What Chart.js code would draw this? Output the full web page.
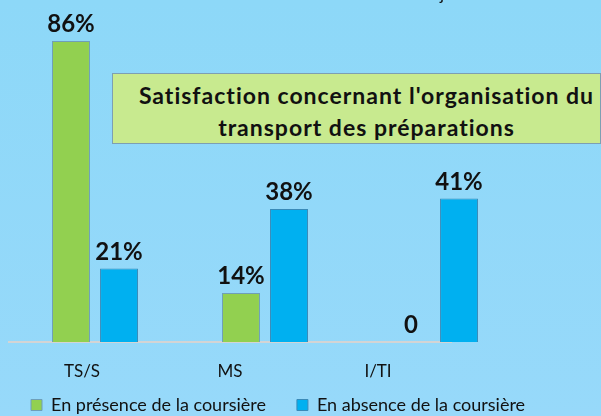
<!DOCTYPE html>
<html>
<head>
<meta charset="utf-8">
<script src="https://cdn.jsdelivr.net/npm/chart.js@4/dist/chart.umd.min.js"></script>
<style>
  html, body { margin: 0; padding: 0; }
  body {
    width: 601px; height: 416px; overflow: hidden; position: relative;
    background: linear-gradient(#8dd8f8, #97d9fa);
    font-family: Lato, sans-serif;
  }
  #wrap { position: absolute; left: 0; top: 0; width: 601px; height: 416px; }
  .titlebox {
    position: absolute; left: 112px; top: 73px; width: 467px; height: 64px;
    background: #c8ea8f; border: 1px solid #7d9fb2;
    text-align: center; font-weight: bold; font-size: 23px; line-height: 32px;
    color: #111; padding: 5px 0 0 20px; box-sizing: content-box; letter-spacing: 1px;
    white-space: nowrap;
  }
  .top { position: absolute; top: -17px; font-size: 17px; color: #111; }
</style>
</head>
<body>
<div id="wrap"><canvas id="chart" width="601" height="416"></canvas></div>
<div class="top" style="left:440px">journalier</div>
<div class="top" style="left:560px">mensuel</div>
<div class="titlebox">Satisfaction concernant l'organisation du<br>transport des préparations</div>
<script>
const categories = ['TS/S', 'MS', 'I/TI'];
const presence = [86, 14, 0];
const absence = [21, 38, 41];
const seriesNames = ['En présence de la coursière', 'En absence de la coursière'];

const baseline = {
    id: 'baseline',
    beforeDatasetsDraw(chart) {
        const ctx = chart.ctx;
        const x2 = chart.scales.x2;
        const y = chart.chartArea.bottom;
        ctx.save();
        ctx.strokeStyle = '#d4d4d4';
        ctx.lineWidth = 2;
        ctx.beginPath();
        ctx.moveTo(x2.getPixelForValue(-0.5), y);
        ctx.lineTo(x2.getPixelForValue(2.5), y);
        ctx.stroke();
        ctx.restore();
    }
};

const valueLabels = {
    id: 'valueLabels',
    afterDatasetsDraw(chart) {
        const ctx = chart.ctx;
        ctx.save();
        ctx.font = 'bold 24px Lato';
        ctx.fillStyle = '#111';
        ctx.textAlign = 'center';
        ctx.textBaseline = 'alphabetic';
        chart.data.datasets.forEach((ds, i) => {
            chart.getDatasetMeta(i).data.forEach((bar, j) => {
                const v = ds.data[j];
                ctx.fillText(v === 0 ? '0' : v + '%', bar.x, bar.y - 9);
            });
        });
        ctx.restore();
    }
};

new Chart(document.getElementById('chart'), {
    type: 'bar',
    data: {
        labels: categories,
        datasets: [{
            label: seriesNames[0],
            data: presence,
            backgroundColor: '#92d050',
            borderColor: '#6f9fb8',
            borderWidth: 1
        }, {
            label: seriesNames[1],
            data: absence,
            backgroundColor: '#00b0f0',
            borderColor: '#3a8ab8',
            borderWidth: 1
        }]
    },
    options: {
        responsive: false,
        animation: false,
        categoryPercentage: 0.565,
        barPercentage: 0.79,
        layout: { padding: { left: 0, right: 0, top: 27, bottom: -8 } },
        scales: {
            x: { type: 'category', display: false },
            // separate axis for the category names, they sit left of the bar groups
            x2: {
                type: 'linear',
                position: 'bottom',
                bounds: 'data',
                offset: false,
                min: -72 / 148,
                max: -72 / 148 + 510 / 148,
                afterBuildTicks: s => { s.ticks = [0, 1, 2].map(v => ({ value: v })); },
                afterFit: s => { s.height = 23; },
                grid: { display: false, offset: false },
                border: { display: false },
                ticks: {
                    autoSkip: false,
                    maxRotation: 0,
                    mirror: true,
                    padding: -40,
                    color: '#111',
                    font: { family: 'Lato', size: 17 },
                    callback: v => categories[v]
                }
            },
            y: {
                min: 0,
                max: 90,
                afterFit: s => { s.width = 10; },
                grid: { display: false },
                border: { display: false },
                ticks: { display: false }
            },
            y2: {
                position: 'right',
                min: 0,
                max: 90,
                afterFit: s => { s.width = 81; },
                grid: { display: false },
                border: { display: false },
                ticks: { display: false }
            }
        },
        plugins: {
            tooltip: { enabled: false },
            legend: {
                position: 'bottom',
                align: 'start',
                labels: {
                    boxWidth: 11,
                    boxHeight: 11,
                    padding: 31,
                    color: '#111',
                    font: { family: 'Lato', size: 18 }
                }
            }
        }
    },
    plugins: [baseline, valueLabels]
});
</script>
</body>
</html>
